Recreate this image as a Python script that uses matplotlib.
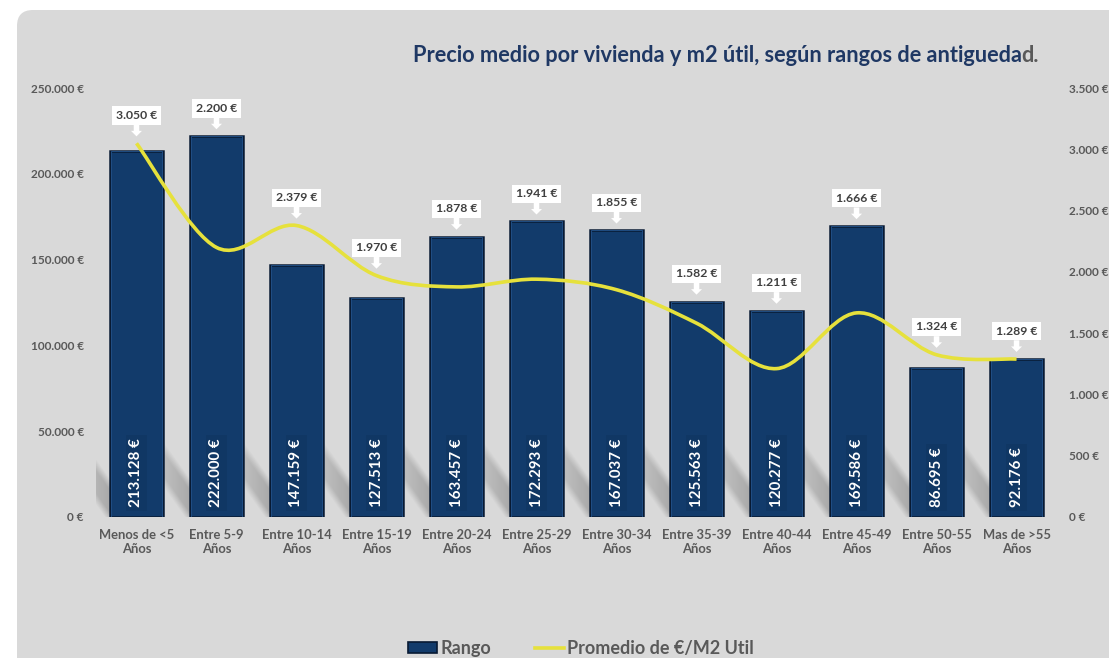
import matplotlib
matplotlib.use("Agg")
import matplotlib.pyplot as plt
from matplotlib.patches import FancyBboxPatch, PathPatch, Patch
from matplotlib.path import Path
from matplotlib.lines import Line2D
from matplotlib.transforms import IdentityTransform
import numpy as np

plt.rcParams['font.family'] = ['Lato', 'DejaVu Sans']

# data
categories = ["Menos de <5\nAños", "Entre 5-9\nAños", "Entre 10-14\nAños", "Entre 15-19\nAños",
              "Entre 20-24\nAños", "Entre 25-29\nAños", "Entre 30-34\nAños", "Entre 35-39\nAños",
              "Entre 40-44\nAños", "Entre 45-49\nAños", "Entre 50-55\nAños", "Mas de >55\nAños"]
rango = [213128, 222000, 147159, 127513, 163457, 172293, 167037, 125563, 120277, 169586, 86695, 92176]
promedio = [3050, 2200, 2379, 1970, 1878, 1941, 1855, 1582, 1211, 1666, 1324, 1289]
left_ticks = [0, 50000, 100000, 150000, 200000, 250000]
right_ticks = [0, 500, 1000, 1500, 2000, 2500, 3000, 3500]

NAVY = '#123b6b'
YELLOW = '#e6e13c'
GRAY = '#595959'


def eur(v):
    return f"{v:,}".replace(',', '.') + " €"


fig = plt.figure(figsize=(11.09, 6.58), dpi=100, facecolor='white')

# gray rounded panel
panel = FancyBboxPatch((17, -30), 1200, 658 - 10 + 30, boxstyle='round,pad=0,rounding_size=16',
                       transform=IdentityTransform(), facecolor='#d9d9d9', edgecolor='none', zorder=-5)
fig.patches.append(panel)

ax = fig.add_axes([0.087, 0.2143, 0.8657, 0.6517])
ax.set_facecolor('none')
x = np.arange(len(categories))
w = 0.66

# soft diagonal shadows on the left of each bar, drawn as one image
PX = 250000 / 429     # data units per vertical pixel
CX = 1 / 80           # categories per horizontal pixel
length, slope, thick = 60, 1.4, 30
gx = np.linspace(-0.5, len(categories) - 0.5, 960)
gy = np.linspace(0, 70000, 120)
GX, GY = np.meshgrid(gx, gy)
shade = np.zeros_like(GX)
for xi in x:
    d = (xi - w / 2 - GX) / CX
    u = GY / PX - d * slope
    band = np.clip(np.minimum(u + 8, thick + 8 - u) / 12, 0, 1)
    fade = np.clip(1 - d / length, 0, 1) * (d >= 0)
    shade = np.maximum(shade, band * fade)
rgba = np.zeros(GX.shape + (4,))
rgba[..., 3] = 0.22 * shade
ax.imshow(rgba, extent=(gx[0], gx[-1], gy[0], gy[-1]), origin='lower', aspect='auto',
          interpolation='bilinear', zorder=1)

ax.bar(x, rango, width=w, color=NAVY, edgecolor='#081a33', linewidth=1.8, zorder=2)
ax.bar(x, rango, width=w - 0.025, color='none', edgecolor='#24558f', linewidth=0.6, zorder=2)

for xi, v in zip(x, rango):
    ax.text(xi, 5800, eur(v), rotation=90, ha='center', va='bottom', color='white',
            fontsize=10.8, fontweight='bold', zorder=3,
            bbox=dict(boxstyle='square,pad=0.25', facecolor='#103764', edgecolor='none'))

ax.set_xlim(-0.5, len(categories) - 0.5)
ax.set_ylim(0, 250000)
ax.set_yticks(left_ticks)
ax.set_yticklabels([eur(t) for t in left_ticks])
ax.set_xticks(x)
ax.set_xticklabels(categories)
ax.tick_params(axis='y', length=0, pad=9, labelsize=8.5, labelcolor=GRAY)
ax.tick_params(axis='x', length=0, pad=9, labelsize=9.4, labelcolor=GRAY)
for lab in ax.get_yticklabels() + ax.get_xticklabels():
    lab.set_fontweight('bold')
for s in ax.spines.values():
    s.set_visible(False)

ax2 = ax.twinx()
ax2.set_ylim(0, 3500)
ax2.set_yticks(right_ticks)
ax2.set_yticklabels([eur(t) for t in right_ticks])
ax2.tick_params(axis='y', length=0, pad=9, labelsize=8.5, labelcolor=GRAY)
for lab in ax2.get_yticklabels():
    lab.set_fontweight('bold')
for s in ax2.spines.values():
    s.set_visible(False)

# smoothed line drawn as bezier segments (Excel "smooth line")
pts = np.column_stack([x, promedio]).astype(float)
n = len(pts)
verts = [pts[0]]
codes = [Path.MOVETO]
for i in range(n - 1):
    p0 = pts[max(i - 1, 0)]
    p1 = pts[i]
    p2 = pts[i + 1]
    p3 = pts[min(i + 2, n - 1)]
    verts += [p1 + (p2 - p0) / 6, p2 - (p3 - p1) / 6, p2]
    codes += [Path.CURVE4] * 3
ax2.add_patch(PathPatch(Path(verts, codes), facecolor='none', edgecolor=YELLOW, linewidth=2.6,
                        capstyle='butt', zorder=4))

# callout labels for the line
for xi, v, b in zip(x, promedio, rango):
    top = max(v, b * 3500 / 250000)
    ax2.annotate(eur(v), xy=(xi, top), xytext=(0, 20), textcoords='offset points',
                 ha='center', va='center', fontsize=8.8, fontweight='bold', color='#404040',
                 bbox=dict(boxstyle='square,pad=0.3', facecolor='white', edgecolor='none'),
                 arrowprops=dict(arrowstyle='simple,head_length=0.45,head_width=0.9,tail_width=0.45',
                                 facecolor='white', edgecolor='none', shrinkA=0, shrinkB=5),
                 zorder=5)

# title
t = fig.text(0.372, 0.916, "Precio medio por vivienda y m2 útil, según rangos de antigueda",
             ha='left', va='center', fontsize=15.7, fontweight='bold', color='#1f3864')
ax.annotate("d.", xy=(1, 0), xycoords=t, ha='left', va='bottom', fontsize=15.7,
            fontweight='bold', color=GRAY, annotation_clip=False)

# legend
handles = [Patch(facecolor=NAVY, edgecolor='#081a33', linewidth=1.2),
           Line2D([], [], color=YELLOW, linewidth=2.6)]
leg = fig.legend(handles, ["Rango", "Promedio de €/M2 Util"], loc='center',
                 bbox_to_anchor=(0.524, 0.014), ncol=2, frameon=False,
                 handlelength=1.6, handleheight=0.55, handletextpad=0.2, columnspacing=2.4,
                 prop=dict(size=13, weight='bold'))
for txt in leg.get_texts():
    txt.set_color(GRAY)

fig.savefig('out.png', dpi=100)
